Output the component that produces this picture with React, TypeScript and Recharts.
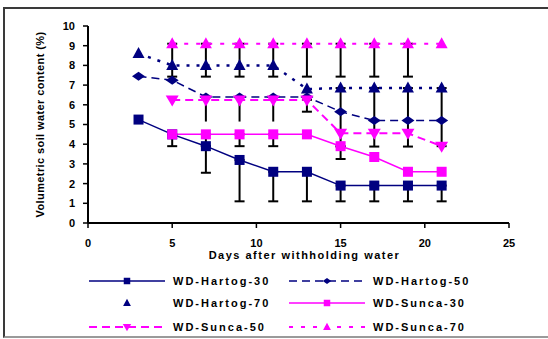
import { LineChart, Line, XAxis, YAxis, ErrorBar, Legend, Label } from "recharts"

// days after withholding water
const days = [3, 5, 7, 9, 11, 13, 15, 17, 19, 21]

// volumetric soil water content (%)
const hartog30 = [5.25, 4.5, 3.9, 3.2, 2.6, 2.6, 1.9, 1.9, 1.9, 1.9]
const hartog50 = [7.45, 7.25, 6.4, 6.4, 6.4, 6.4, 5.65, 5.2, 5.2, 5.2]
const hartog70 = [8.6, 8.0, 8.0, 8.0, 8.0, 6.8, 6.85, 6.85, 6.85, 6.85]
const sunca30 = [null, 4.5, 4.5, 4.5, 4.5, 4.5, 3.9, 3.35, 2.6, 2.6]
const sunca50 = [null, 6.25, 6.25, 6.25, 6.25, 6.25, 4.55, 4.55, 4.55, 3.9]
const sunca70 = [null, 9.1, 9.1, 9.1, 9.1, 9.1, 9.1, 9.1, 9.1, 9.1]

// minus error bars (only the lower half is drawn in the original)
const hartog30Err = [null, null, 1.35, 2.1, 1.5, 1.5, 0.8, 0.8, 0.8, 0.8]
const hartog70Err = [null, null, null, null, null, null, 2.97, 2.97, 2.97, 2.95]
const sunca30Err = [null, 0.6, 0.6, 0.6, 0.6, null, 0.65, null, null, null]
const sunca50Err = [null, null, null, null, null, 0.6, null, null, null, null]
const sunca50Stem = [null, null, 1.1, 1.1, 1.1, null, null, null, null, null]
const sunca70Err = [null, 1.67, 1.67, 1.67, 1.67, 1.67, 1.67, 1.67, 1.67, null]

const xTicks = [0, 5, 10, 15, 20, 25]
const yTicks = [0, 1, 2, 3, 4, 5, 6, 7, 8, 9, 10]

const navy = "#000080"
const pink = "#ff00ff"
const font = "'Liberation Sans', Arial, sans-serif"

const minus = (v: number | null) => (v == null ? null : [v, 0])

const data = days.map((day, i) => ({
  day,
  h30: hartog30[i],
  h50: hartog50[i],
  h70: hartog70[i],
  s30: sunca30[i],
  s50: sunca50[i],
  s70: sunca70[i],
  h30e: minus(hartog30Err[i]),
  h70e: minus(hartog70Err[i]),
  s30e: minus(sunca30Err[i]),
  s50e: minus(sunca50Err[i]),
  s50s: minus(sunca50Stem[i]),
  s70e: minus(sunca70Err[i]),
}))

type Shape = "square" | "triangle" | "diamond" | "downTri"

const series = [
  { key: "h30", name: "WD-Hartog-30", color: navy, dash: undefined, width: 1.5, shape: "square" as Shape, legendLine: true },
  { key: "h50", name: "WD-Hartog-50", color: navy, dash: "8 5", width: 1.5, shape: "diamond" as Shape, legendLine: true },
  { key: "h70", name: "WD-Hartog-70", color: navy, dash: "3 7", width: 2.5, shape: "triangle" as Shape, legendLine: false },
  { key: "s30", name: "WD-Sunca-30", color: pink, dash: undefined, width: 1.5, shape: "square" as Shape, legendLine: true },
  { key: "s50", name: "WD-Sunca-50", color: pink, dash: "8 5", width: 2, shape: "downTri" as Shape, legendLine: true },
  { key: "s70", name: "WD-Sunca-70", color: pink, dash: "4 8", width: 2, shape: "triangle" as Shape, legendLine: true },
]

const Marker = ({ cx, cy, shape, color, size = 1 }: any) => {
  if (cx == null || cy == null || isNaN(cy)) return <g />
  const s = size
  if (shape === "square") {
    return <rect x={cx - 5 * s} y={cy - 5 * s} width={10 * s} height={10 * s} fill={color} />
  }
  if (shape === "triangle") {
    return <path d={`M${cx},${cy - 6.5 * s} L${cx + 6 * s},${cy + 4.5 * s} L${cx - 6 * s},${cy + 4.5 * s} Z`} fill={color} />
  }
  if (shape === "diamond") {
    return <path d={`M${cx - 6.5 * s},${cy} L${cx},${cy - 4.5 * s} L${cx + 6.5 * s},${cy} L${cx},${cy + 4.5 * s} Z`} fill={color} />
  }
  return <path d={`M${cx - 6.5 * s},${cy - 4.5 * s} L${cx + 6.5 * s},${cy - 4.5 * s} L${cx},${cy + 6.5 * s} Z`} fill={color} />
}

const legendCols = [89, 289]
const legendRows = [281, 303, 327]

const LegendBox = () => (
  <svg width={548} height={339} style={{ position: "absolute", left: 0, top: 0, pointerEvents: "none" }}>
    {series.map((s, i) => {
      const x = legendCols[i % 2]
      const y = legendRows[Math.floor(i / 2)]
      return (
        <g key={s.key}>
          {s.legendLine && (
            <line x1={x} y1={y} x2={x + 76} y2={y} stroke={s.color} strokeWidth={s.width} strokeDasharray={s.dash} />
          )}
          <Marker cx={x + 38} cy={y} shape={s.shape} color={s.color} size={0.65} />
          <text
            x={x + 84}
            y={y}
            dominantBaseline="central"
            fontSize={11}
            fontWeight="bold"
            fontFamily={font}
            letterSpacing={2}
            fill="#000"
          >
            {s.name}
          </text>
        </g>
      )
    })}
  </svg>
)

const YTitle = (props: any) => {
  const { viewBox } = props
  const cx = viewBox.x + 32
  const cy = viewBox.y + viewBox.height / 2
  return (
    <text
      x={cx}
      y={cy}
      transform={`rotate(-90 ${cx} ${cy})`}
      textAnchor="middle"
      dominantBaseline="central"
      fontSize={11}
      fontWeight="bold"
      fontFamily={font}
      letterSpacing={0.4}
      fill="#000"
    >
      Volumetric soil water content (%)
    </text>
  )
}

export default function App() {
  const tickStyle = { fontSize: 11, fontWeight: "bold", fill: "#000", fontFamily: font }
  return (
    <div style={{ position: "absolute", left: 0, top: 0, width: 548, height: 339, background: "#fff", overflow: "hidden" }}>
      <div
        style={{
          position: "absolute",
          left: 3,
          top: 7,
          width: 545,
          height: 331,
          boxSizing: "border-box",
          borderTop: "2px solid #3a3a3a",
          borderLeft: "2px solid #3a3a3a",
          borderBottom: "2px solid #9a9a9a",
        }}
      />
      <LineChart width={548} height={339} data={data} margin={{ top: 26, right: 39, left: 8, bottom: 80 }}>
        <XAxis
          dataKey="day"
          type="number"
          domain={[0, 25]}
          ticks={xTicks}
          interval={0}
          height={36}
          tickSize={5}
          tickMargin={11}
          tick={tickStyle}
          axisLine={{ stroke: "#000", strokeWidth: 2 }}
          tickLine={{ stroke: "#000", strokeWidth: 1.5 }}
        >
          <Label
            value="Days after withholding water"
            position="insideBottom"
            offset={0}
            dx={6}
            fontSize={11}
            fontWeight="bold"
            fontFamily={font}
            letterSpacing={1.5}
            fill="#000"
          />
        </XAxis>
        <YAxis
          type="number"
          domain={[0, 10]}
          ticks={yTicks}
          interval={0}
          width={80}
          tickSize={5}
          tickMargin={8}
          tick={tickStyle}
          axisLine={{ stroke: "#000", strokeWidth: 2 }}
          tickLine={{ stroke: "#000", strokeWidth: 1.5 }}
          label={<YTitle />}
        />
        {series.map((s) => (
          <Line
            key={s.key}
            dataKey={s.key}
            name={s.name}
            stroke={s.color}
            strokeWidth={s.width}
            strokeDasharray={s.dash}
            isAnimationActive={false}
            activeDot={false}
            dot={(p: any) => <Marker key={`${s.key}-${p.index}`} cx={p.cx} cy={p.cy} shape={s.shape} color={s.color} />}
          >
            {s.key === "h30" && <ErrorBar dataKey="h30e" width={5} stroke="#000" strokeWidth={2} />}
            {s.key === "h70" && <ErrorBar dataKey="h70e" width={5} stroke="#000" strokeWidth={2} />}
            {s.key === "s30" && <ErrorBar dataKey="s30e" width={5} stroke="#000" strokeWidth={2} />}
            {s.key === "s50" && <ErrorBar dataKey="s50e" width={5} stroke="#000" strokeWidth={2} />}
            {s.key === "s50" && <ErrorBar dataKey="s50s" width={0} stroke="#000" strokeWidth={2} />}
            {s.key === "s70" && <ErrorBar dataKey="s70e" width={5} stroke="#000" strokeWidth={2} />}
          </Line>
        ))}
        <Legend layout="vertical" align="center" verticalAlign="middle" content={() => null} />
      </LineChart>
      <LegendBox />
    </div>
  )
}
